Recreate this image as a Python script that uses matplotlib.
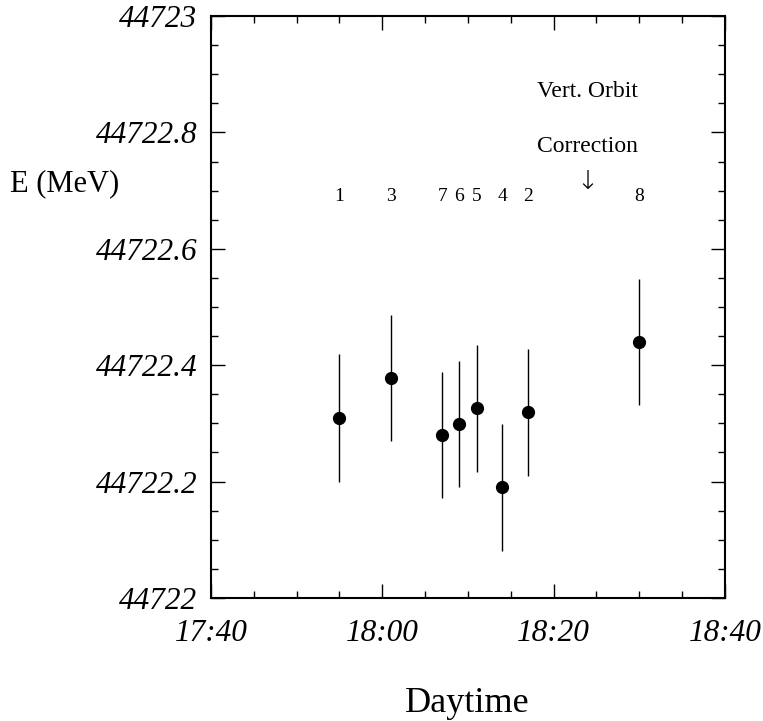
import matplotlib
matplotlib.use("Agg")
from matplotlib import pyplot as plt
from matplotlib.ticker import MultipleLocator, FixedLocator

plt.rcParams['font.family'] = ['Liberation Serif', 'DejaVu Serif']

# minutes after 17:40, beam energy and its error
run_id = ["1", "3", "7", "6", "5", "4", "2", "8"]
minutes = [15, 21, 27, 29, 31, 34, 37, 50]
energy = [44722.31, 44722.378, 44722.28, 44722.299, 44722.326, 44722.19, 44722.319, 44722.44]
err = [0.11, 0.108, 0.109, 0.109, 0.109, 0.109, 0.109, 0.108]

time_ticks = [0, 20, 40, 60]
time_labels = ["17:40", "18:00", "18:20", "18:40"]
e_ticks = [44722, 44722.2, 44722.4, 44722.6, 44722.8, 44723]
e_labels = ["44722", "44722.2", "44722.4", "44722.6", "44722.8", "44723"]

fig = plt.figure(figsize=(7.63, 7.21), dpi=100)
ax = fig.add_axes([0.2765, 0.1706, 0.6737, 0.8072])

ax.errorbar(minutes, energy, yerr=err, fmt='o', color='black',
            markersize=8.5, elinewidth=1.0, capsize=0)

for lab, m in zip(run_id, minutes):
    ax.text(m, 44722.69, lab, ha='center', va='center', fontsize=14)

ax.text(44.0, 44722.87, "Vert. Orbit", ha='center', va='center', fontsize=17)
ax.text(44.0, 44722.775, "Correction", ha='center', va='center', fontsize=17)
ax.text(43.9, 44722.715, "\u2193", ha='center', va='center', fontsize=19,
        family=['DejaVu Sans'], fontweight='light')

ax.set_xlim(0, 60)
ax.set_ylim(44722, 44723)
ax.xaxis.set_major_locator(FixedLocator(time_ticks))
ax.xaxis.set_minor_locator(MultipleLocator(5))
ax.yaxis.set_major_locator(FixedLocator(e_ticks))
ax.yaxis.set_minor_locator(MultipleLocator(0.05))
ax.set_xticklabels(time_labels, fontsize=22.5, style='italic')
ax.set_yticklabels(e_labels, fontsize=22.5, style='italic')

ax.tick_params(which='both', direction='in', top=True, right=True, width=1.0)
ax.tick_params(which='major', length=10)
ax.tick_params(which='minor', length=5)
ax.tick_params(axis='y', pad=10)
ax.tick_params(axis='x', pad=15)
for s in ax.spines.values():
    s.set_linewidth(1.5)

fig.text(10 / 763, 1 - 184 / 721, "E (MeV)", ha='left', va='center', fontsize=22)
fig.text(467 / 763, 1 - 703 / 721, "Daytime", ha='center', va='center', fontsize=26)

fig.savefig("out.png", dpi=100)
